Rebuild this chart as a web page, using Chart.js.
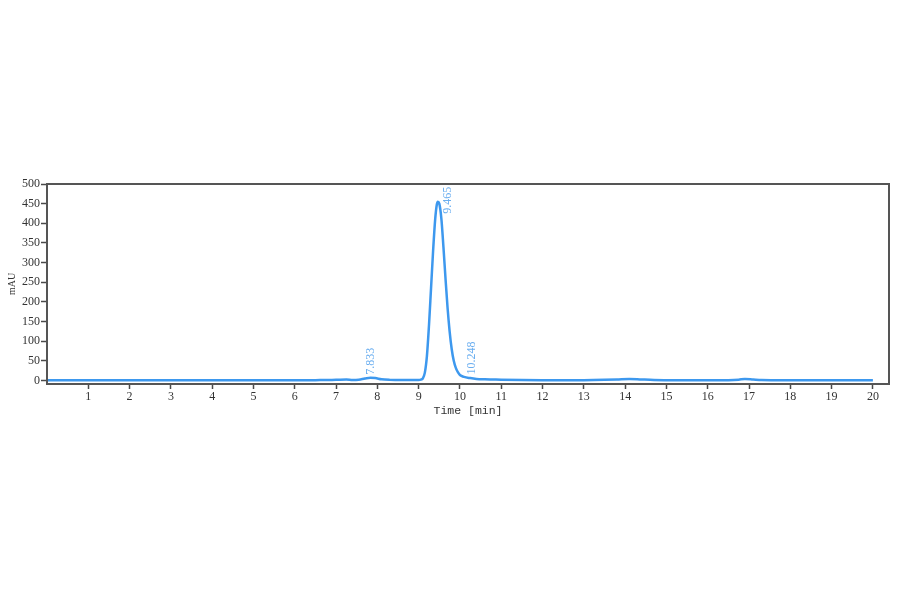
<!DOCTYPE html>
<html>
<head>
<meta charset="utf-8">
<script src="https://cdn.jsdelivr.net/npm/chart.js@4/dist/chart.umd.min.js"></script>
<style>
    html, body { margin: 0; padding: 0; background: #ffffff; }
    #wrap { width: 900px; height: 594px; }
</style>
</head>
<body>
<div id="wrap"><canvas id="myChart" width="900" height="594"></canvas></div>
<script>
// retention time (min) and detector signal (mAU)
const times = [0, 0.5, 1, 1.5, 2, 2.5, 3, 3.5, 4, 4.5, 5, 5.5, 6, 6.5, 6.9, 7.1, 7.25, 7.4, 7.55, 7.7, 7.833, 7.95, 8.1, 8.3, 8.6, 8.9, 9.0, 9.05, 9.1, 9.15, 9.2, 9.25, 9.3, 9.35, 9.4, 9.44, 9.465, 9.5, 9.55, 9.6, 9.65, 9.7, 9.75, 9.8, 9.85, 9.9, 9.95, 10.0, 10.1, 10.248, 10.4, 10.6, 10.8, 11.0, 11.5, 12, 12.5, 13, 13.5, 13.8, 14.1, 14.4, 14.7, 15, 15.5, 16, 16.5, 16.75, 16.9, 17.1, 17.3, 17.6, 18, 18.5, 19, 19.5, 20]
const signal = [0.5, 0.5, 0.5, 0.5, 0.5, 0.5, 0.5, 0.5, 0.5, 0.5, 0.5, 0.5, 0.5, 0.8, 1.2, 2, 2.2, 1.2, 2, 5, 7, 6, 3, 1.5, 1, 1, 1.2, 2, 5, 20, 62, 140, 235, 330, 410, 448, 455, 450, 412, 340, 260, 185, 125, 80, 50, 32, 21, 14, 9, 6, 4, 3, 2.5, 2, 1.2, 0.8, 0.8, 0.8, 1.5, 2.5, 4, 2.5, 1.2, 0.8, 0.6, 0.6, 0.8, 2, 4, 2.5, 1, 0.6, 0.5, 0.5, 0.5, 0.5, 0.5]

// labelled peaks
const peakTimes = [7.833, 9.465, 10.248]
const peakHeights = [7, 455, 5]
const peakLabels = ['7.833', '9.465', '10.248']

const xTicks = [1, 2, 3, 4, 5, 6, 7, 8, 9, 10, 11, 12, 13, 14, 15, 16, 17, 18, 19, 20]
const yTicks = [0, 50, 100, 150, 200, 250, 300, 350, 400, 450, 500]

const lineColor = '#3d98ee'
const axisColor = '#4a4a4a'

const framePlugin = {
    id: 'frame',
    afterDraw(chart) {
        const a = chart.chartArea
        const ctx = chart.ctx
        ctx.save()
        ctx.strokeStyle = '#555555'
        ctx.lineWidth = 2
        ctx.strokeRect(a.left, a.top, a.right - a.left, a.bottom - a.top)
        ctx.restore()
    }
}

const peakLabelPlugin = {
    id: 'peakLabels',
    afterDatasetsDraw(chart, args, opts) {
        const ctx = chart.ctx
        const xs = chart.scales.x
        const ys = chart.scales.y
        ctx.save()
        ctx.fillStyle = opts.color
        ctx.font = opts.font
        ctx.textAlign = 'left'
        ctx.textBaseline = 'middle'
        peakTimes.forEach(function (t, i) {
            const off = opts.offsets[i]
            const px = xs.getPixelForValue(t) + off[0]
            const py = ys.getPixelForValue(peakHeights[i]) + off[1]
            ctx.save()
            ctx.translate(px, py)
            ctx.rotate(-Math.PI / 2)
            ctx.fillText(peakLabels[i], 0, 0)
            ctx.restore()
        })
        ctx.restore()
    }
}

new Chart('myChart', {
    type: 'line',
    data: {
        datasets: [{
            data: times.map((t, i) => ({ x: t, y: signal[i] })),
            borderColor: lineColor,
            borderWidth: 2.5,
            pointRadius: 0,
            fill: false,
            cubicInterpolationMode: 'monotone'
        }]
    },
    options: {
        responsive: false,
        animation: false,
        layout: {
            padding: { top: 184, right: 11, bottom: 176, left: 0 }
        },
        scales: {
            x: {
                type: 'linear',
                min: 0,
                max: 20.39,
                afterBuildTicks: (s) => { s.ticks = xTicks.map(v => ({ value: v })) },
                afterFit: (s) => { s.height = 34 },
                border: { display: false },
                grid: { drawOnChartArea: false, color: axisColor, tickLength: 5, tickWidth: 1.5 },
                ticks: {
                    color: '#333333',
                    padding: 1,
                    maxRotation: 0,
                    autoSkip: false,
                    font: { family: 'Liberation Serif', size: 12 }
                },
                title: {
                    display: true,
                    text: 'Time [min]',
                    color: '#333333',
                    padding: 0,
                    font: { family: 'Liberation Mono', size: 11.5 }
                }
            },
            y: {
                min: -9,
                max: 500,
                afterBuildTicks: (s) => { s.ticks = yTicks.map(v => ({ value: v })) },
                afterFit: (s) => { s.width = 47 },
                border: { display: false },
                grid: { drawOnChartArea: false, color: axisColor, tickLength: 6, tickWidth: 1.5 },
                ticks: {
                    color: '#333333',
                    padding: 1,
                    autoSkip: false,
                    font: { family: 'Liberation Serif', size: 12 }
                },
                title: {
                    display: true,
                    text: 'mAU',
                    color: '#333333',
                    padding: { top: 6, bottom: 0 },
                    font: { family: 'Liberation Serif', size: 10 }
                }
            }
        },
        plugins: {
            legend: { display: false },
            tooltip: { enabled: false },
            peakLabels: {
                color: '#6aaef0',
                font: '12px "Liberation Serif"',
                offsets: [[0, -3], [10, 12], [2, -4]]
            }
        }
    },
    plugins: [framePlugin, peakLabelPlugin]
})
</script>
</body>
</html>
